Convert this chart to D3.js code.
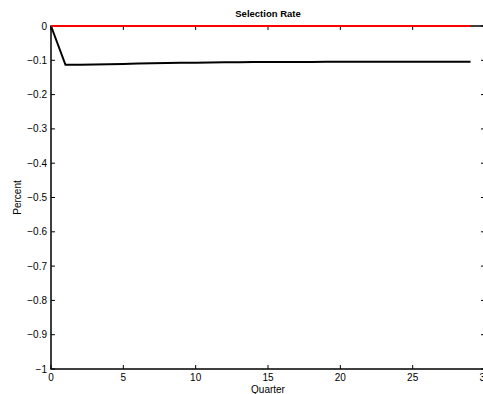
<!DOCTYPE html>
<html>
<head>
<meta charset="utf-8">
<script src="https://cdn.jsdelivr.net/npm/d3@7"></script>
<style>
  body { margin: 0; background: #fff; }
  svg text { font-family: "Liberation Sans", Arial, Helvetica, sans-serif; fill: #000; }
</style>
</head>
<body>
<div id="chart"></div>
<script>
// quarters 0..29
var quarters = d3.range(0, 30);
// selection rate response (percent)
var selectionRate = [0, -0.113, -0.113, -0.1125, -0.1115, -0.1105, -0.1095, -0.1087, -0.108, -0.1073,
  -0.1068, -0.1063, -0.1059, -0.1056, -0.1053, -0.1051, -0.1049, -0.1047, -0.1046, -0.1045,
  -0.1044, -0.1043, -0.1042, -0.1042, -0.1041, -0.1041, -0.104, -0.104, -0.104, -0.104];
// baseline
var baseline = quarters.map(function() { return 0; });
var xTicks = [0, 5, 10, 15, 20, 25, 30];
var yTicks = [0, -0.1, -0.2, -0.3, -0.4, -0.5, -0.6, -0.7, -0.8, -0.9, -1];

var W = 483, H = 394;
var margin = { top: 26, left: 51 };
var plotW = 434, plotH = 343;

var svg = d3.select("#chart").append("svg")
  .attr("width", W).attr("height", H);

var x = d3.scaleLinear().domain([0, 30]).range([margin.left, margin.left + plotW]);
var y = d3.scaleLinear().domain([-1, 0]).range([margin.top + plotH, margin.top]);

function fmt(v) {
  if (v === 0) return "0";
  if (v === -1) return "\u22121";
  return "\u2212" + Math.abs(v).toFixed(1);
}

// box
var g = svg.append("g");
g.append("rect")
  .attr("x", x(0)).attr("y", y(0))
  .attr("width", plotW).attr("height", plotH)
  .attr("fill", "none").attr("stroke", "#000").attr("stroke-width", 1.5);

// x ticks (inward, bottom and top)
xTicks.forEach(function(t) {
  g.append("line").attr("x1", x(t)).attr("x2", x(t))
    .attr("y1", y(-1)).attr("y2", y(-1) - 4).attr("stroke", "#000").attr("stroke-width", 1);
  g.append("line").attr("x1", x(t)).attr("x2", x(t))
    .attr("y1", y(0)).attr("y2", y(0) + 4).attr("stroke", "#000").attr("stroke-width", 1);
  g.append("text").attr("x", x(t)).attr("y", y(-1) + 12)
    .attr("text-anchor", "middle").attr("font-size", 10).text(t);
});

// y ticks (inward, left and right)
yTicks.forEach(function(t) {
  g.append("line").attr("x1", x(0)).attr("x2", x(0) + 4)
    .attr("y1", y(t)).attr("y2", y(t)).attr("stroke", "#000").attr("stroke-width", 1);
  g.append("line").attr("x1", x(30)).attr("x2", x(30) - 4)
    .attr("y1", y(t)).attr("y2", y(t)).attr("stroke", "#000").attr("stroke-width", 1);
  g.append("text").attr("x", x(0) - 4).attr("y", y(t) + 3.5)
    .attr("text-anchor", "end").attr("font-size", 10).text(fmt(t));
});

var line = d3.line()
  .x(function(d, i) { return x(quarters[i]); })
  .y(function(d) { return y(d); });

svg.append("path").datum(selectionRate)
  .attr("d", line).attr("fill", "none")
  .attr("stroke", "#000").attr("stroke-width", 2);

svg.append("path").datum(baseline)
  .attr("d", line).attr("fill", "none")
  .attr("stroke", "#ff0000").attr("stroke-width", 2);

// labels
svg.append("text").attr("x", x(15)).attr("y", 17)
  .attr("text-anchor", "middle").attr("font-size", 9.5).attr("font-weight", "bold")
  .text("Selection Rate");

svg.append("text").attr("x", x(15)).attr("y", 393)
  .attr("text-anchor", "middle").attr("font-size", 10).text("Quarter");

svg.append("text")
  .attr("transform", "translate(21," + y(-0.5) + ") rotate(-90)")
  .attr("text-anchor", "middle").attr("font-size", 10).text("Percent");
</script>
</body>
</html>
